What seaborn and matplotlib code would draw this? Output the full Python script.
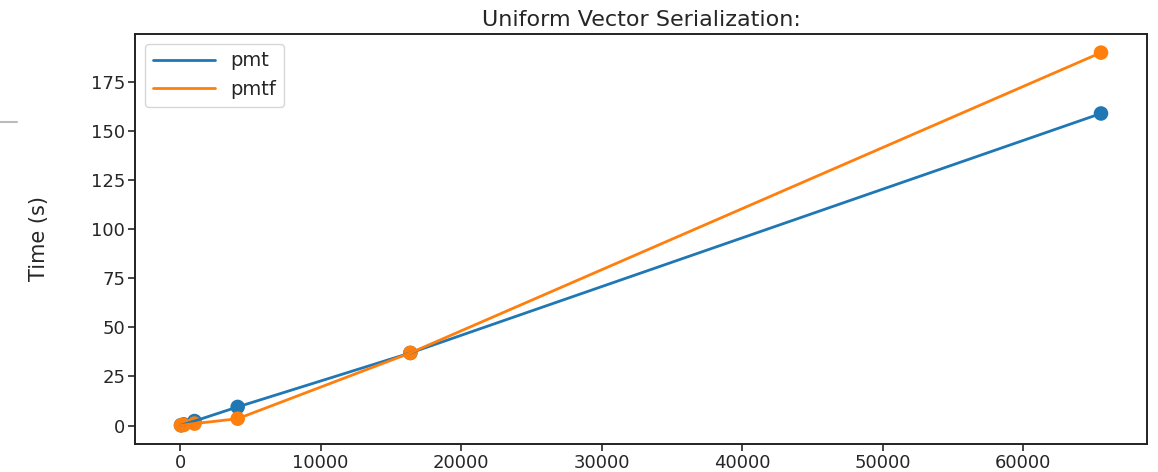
import matplotlib
matplotlib.use("Agg")
import matplotlib.pyplot as plt
from matplotlib.lines import Line2D
import seaborn as sns

# vector sizes and serialization times
sizes = [64, 256, 1024, 4096, 16384, 65536]
pmt = [0.2, 0.6, 2.3, 9.5, 37.0, 159.0]
pmtf = [0.1, 0.3, 1.0, 3.5, 37.0, 190.0]
labels = ["pmt", "pmtf"]
colors = ["#1f77b4", "#ff7f0e"]

sns.set_style("ticks")
plt.rcParams['font.family'] = ['DejaVu Sans']

fig = plt.figure(figsize=(11.58, 4.72), dpi=100)
ax = fig.add_axes([0.1166, 0.0593, 0.8739, 0.8687])

for vals, lab, col in zip([pmt, pmtf], labels, colors):
    sns.lineplot(x=sizes, y=vals, label=lab, color=col, linewidth=2, ax=ax)
    sns.scatterplot(x=sizes, y=vals, color=col, s=110, edgecolor="none", ax=ax)

ax.legend(loc="upper left", fontsize=14, frameon=True, handlelength=3.2)
ax.set_title("Uniform Vector Serialization:", fontsize=16, pad=6)
ax.set_ylabel("Time (s)", fontsize=15, labelpad=30)
ax.tick_params(labelsize=13, length=5, width=1.2, pad=2)
ax.set_xticks([0, 10000, 20000, 30000, 40000, 50000, 60000])
ax.set_yticks([0, 25, 50, 75, 100, 125, 150, 175])
for s in ax.spines.values():
    s.set_linewidth(1.4)
    s.set_color("#222222")

# stray grey mark at the left edge of the screenshot
fig.add_artist(Line2D([0.0, 0.015], [1 - 122 / 472, 1 - 122 / 472], color="#bbbbbb", linewidth=1.5))

fig.savefig("out.png", dpi=100)
